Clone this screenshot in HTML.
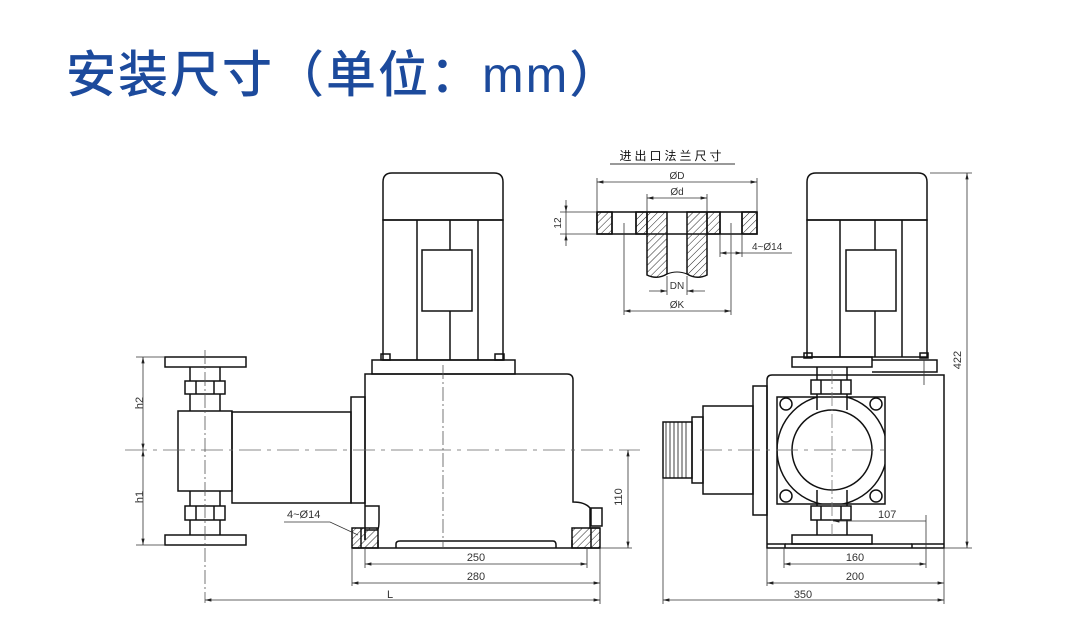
<!DOCTYPE html>
<html><head><meta charset="utf-8"><style>
html,body{margin:0;padding:0;background:#fff;}
body{width:1071px;height:644px;overflow:hidden;position:relative;}
.t{position:absolute;left:66px;top:50px;font-family:"Liberation Sans","Noto Sans CJK SC",sans-serif;font-size:50px;font-weight:500;color:#1c4a9c;letter-spacing:2px;white-space:nowrap;line-height:1;}
svg{position:absolute;left:0;top:0;}
</style></head><body>
<div class="t">安装尺寸（单位：mm）</div>
<svg width="1071" height="644" viewBox="0 0 1071 644" font-family="Liberation Sans, Noto Sans CJK SC, sans-serif">
<defs>
<pattern id="h" width="5" height="5" patternUnits="userSpaceOnUse" patternTransform="rotate(45)">
<line x1="0" y1="0" x2="0" y2="5" stroke="#222" stroke-width="1"/></pattern>
<marker id="a" markerWidth="8" markerHeight="6" refX="8" refY="3" orient="auto-start-reverse"><path d="M0,1 L8,3 L0,5z" fill="#222"/></marker>
<clipPath id="sq"><rect x="777" y="397" width="108" height="107"/></clipPath>
</defs>
<g stroke="#111" stroke-width="1.5" fill="none">
<path d="M383,220 V182 Q383,173 392,173 H494 Q503,173 503,182 V220 Z"/>
<rect x="383" y="220" width="120" height="140"/>
<line x1="417" y1="220" x2="417" y2="360"/><line x1="450" y1="220" x2="450" y2="360"/><line x1="478" y1="220" x2="478" y2="360"/>
<rect x="422" y="250" width="50" height="61" fill="#fff"/>
<rect x="381" y="354" width="9" height="6"/><rect x="495" y="354" width="9" height="6"/>
<rect x="372" y="360" width="143" height="14"/>
<path d="M365,540 V374 H567 Q573,374 573,380 V502 Q585,502 590,508 V528 H600"/>
<path d="M365,540 V530 H377 Q379,530 379,520 V506 H365"/>
<rect x="591" y="508" width="11" height="18"/>
<rect x="352" y="528" width="26" height="20" fill="url(#h)"/>
<rect x="572" y="528" width="28" height="20" fill="url(#h)"/>
<line x1="361" y1="528" x2="361" y2="548"/><line x1="591" y1="528" x2="591" y2="548"/>
<path d="M352,548 H600 M378,548 V540 M572,548 V540 M396,548 V544 Q396,541 400,541 H553 Q556,541 556,545 V548"/>
<rect x="351" y="397" width="14" height="106"/>
<rect x="232" y="412" width="119" height="91"/>
<rect x="178" y="411" width="54" height="80"/>
<rect x="165" y="357" width="81" height="10"/>
<rect x="165" y="535" width="81" height="10"/>
<line x1="190" y1="367" x2="190" y2="411"/><line x1="220" y1="367" x2="220" y2="411"/>
<line x1="190" y1="491" x2="190" y2="535"/><line x1="220" y1="491" x2="220" y2="535"/>
<rect x="185" y="381" width="40" height="13" fill="#fff"/><line x1="196" y1="381" x2="196" y2="394"/><line x1="214" y1="381" x2="214" y2="394"/>
<rect x="185" y="506" width="40" height="14" fill="#fff"/><line x1="196" y1="506" x2="196" y2="520"/><line x1="214" y1="506" x2="214" y2="520"/>

<path d="M807,220 V182 Q807,173 816,173 H918 Q927,173 927,182 V220 Z"/>
<rect x="807" y="220" width="120" height="137"/>
<line x1="840" y1="220" x2="840" y2="357"/><line x1="875" y1="220" x2="875" y2="357"/><line x1="902" y1="220" x2="902" y2="357"/>
<rect x="846" y="250" width="50" height="61" fill="#fff"/>
<rect x="804" y="353" width="8" height="5"/><rect x="920" y="353" width="8" height="5"/>
<rect x="792" y="357" width="80" height="10"/>
<path d="M872,360 H937 V372 H872"/>
<path d="M767,548 V380 Q767,375 772,375 H944 V548 Z"/>
<rect x="753" y="386" width="14" height="129"/>
<rect x="703" y="406" width="50" height="88"/>
<rect x="692" y="417" width="11" height="66"/>
<rect x="663" y="422" width="29" height="56"/>
<g stroke-width="0.8"><line x1="666" y1="422" x2="666" y2="478"/><line x1="670" y1="422" x2="670" y2="478"/><line x1="674" y1="422" x2="674" y2="478"/><line x1="678" y1="422" x2="678" y2="478"/><line x1="682" y1="422" x2="682" y2="478"/><line x1="686" y1="422" x2="686" y2="478"/></g>
<rect x="777" y="397" width="108" height="107"/>
<circle cx="832" cy="450" r="55" clip-path="url(#sq)"/>
<circle cx="832" cy="450" r="40" fill="#fff"/>
<g fill="#fff"><circle cx="786" cy="404" r="6"/><circle cx="876" cy="404" r="6"/><circle cx="786" cy="496" r="6"/><circle cx="876" cy="496" r="6"/></g>
<line x1="817" y1="367" x2="817" y2="410"/><line x1="847" y1="367" x2="847" y2="410"/>
<line x1="817" y1="490" x2="817" y2="535"/><line x1="847" y1="490" x2="847" y2="535"/>
<rect x="811" y="380" width="40" height="14" fill="#fff"/><line x1="821" y1="380" x2="821" y2="394"/><line x1="841" y1="380" x2="841" y2="394"/>
<rect x="811" y="506" width="40" height="14" fill="#fff"/><line x1="821" y1="506" x2="821" y2="520"/><line x1="841" y1="506" x2="841" y2="520"/>
<rect x="792" y="535" width="80" height="9"/>
<path d="M767,544 H785 V548 M912,548 V544 H944"/>
<line x1="785" y1="544" x2="912" y2="544"/>

<rect x="597" y="212" width="160" height="22" fill="#fff"/>
<rect x="597" y="212" width="15" height="22" fill="url(#h)"/>
<rect x="636" y="212" width="11" height="22" fill="url(#h)"/>
<rect x="707" y="212" width="13" height="22" fill="url(#h)"/>
<rect x="742" y="212" width="15" height="22" fill="url(#h)"/>
<line x1="612" y1="212" x2="612" y2="234"/><line x1="636" y1="212" x2="636" y2="234"/>
<line x1="720" y1="212" x2="720" y2="234"/><line x1="742" y1="212" x2="742" y2="234"/>
<path d="M647,212 V275 Q657,280 667,274 V212 Z" fill="url(#h)"/>
<path d="M687,212 V274 Q697,280 707,275 V212 Z" fill="url(#h)"/>
<path d="M667,274 Q677,270 687,274" stroke-width="1"/>
</g>
<g stroke="#333" stroke-width="0.8" fill="none">
<line x1="125" y1="450" x2="640" y2="450" stroke-dasharray="22,6,4,6" stroke="#666"/>
<line x1="700" y1="450" x2="890" y2="450" stroke-dasharray="22,6,4,6" stroke="#666"/>
<line x1="205" y1="350" x2="205" y2="603" stroke-dasharray="14,3,2,3" stroke="#555"/>
<line x1="443" y1="365" x2="443" y2="548" stroke-dasharray="14,3,2,3" stroke="#555"/>
<line x1="832" y1="370" x2="832" y2="535" stroke-dasharray="14,3,2,3" stroke="#777"/>
<line x1="136" y1="357" x2="165" y2="357"/><line x1="136" y1="545" x2="165" y2="545"/>
<line x1="143" y1="357" x2="143" y2="450" marker-start="url(#a)" marker-end="url(#a)"/>
<line x1="143" y1="450" x2="143" y2="545" marker-start="url(#a)" marker-end="url(#a)"/>
<line x1="600" y1="548" x2="632" y2="548"/>
<line x1="628" y1="450" x2="628" y2="548" marker-start="url(#a)" marker-end="url(#a)"/>
<line x1="365" y1="548" x2="365" y2="568"/><line x1="587" y1="548" x2="587" y2="568"/>
<line x1="365" y1="564" x2="587" y2="564" marker-start="url(#a)" marker-end="url(#a)"/>
<line x1="352" y1="548" x2="352" y2="586"/><line x1="600" y1="548" x2="600" y2="604"/>
<line x1="352" y1="583" x2="600" y2="583" marker-start="url(#a)" marker-end="url(#a)"/>
<line x1="205" y1="600" x2="600" y2="600" marker-start="url(#a)" marker-end="url(#a)"/>
<path d="M284,522 H330 L358,535"/>
<line x1="930" y1="173" x2="972" y2="173"/><line x1="944" y1="548" x2="972" y2="548"/>
<line x1="967" y1="173" x2="967" y2="548" marker-start="url(#a)" marker-end="url(#a)"/>
<line x1="924" y1="360" x2="924" y2="385"/>
<line x1="833" y1="521" x2="926" y2="521" marker-start="url(#a)"/>
<line x1="784" y1="548" x2="784" y2="568"/><line x1="926" y1="515" x2="926" y2="568"/>
<line x1="784" y1="564" x2="926" y2="564" marker-start="url(#a)" marker-end="url(#a)"/>
<line x1="767" y1="548" x2="767" y2="586"/><line x1="944" y1="548" x2="944" y2="604"/>
<line x1="767" y1="583" x2="944" y2="583" marker-start="url(#a)" marker-end="url(#a)"/>
<line x1="663" y1="478" x2="663" y2="604"/>
<line x1="663" y1="600" x2="944" y2="600" marker-start="url(#a)" marker-end="url(#a)"/>
<line x1="610" y1="164" x2="735" y2="164" stroke-width="1"/>
<line x1="597" y1="178" x2="597" y2="212"/><line x1="757" y1="178" x2="757" y2="212"/>
<line x1="597" y1="182" x2="757" y2="182" marker-start="url(#a)" marker-end="url(#a)"/>
<line x1="647" y1="194" x2="647" y2="212"/><line x1="707" y1="194" x2="707" y2="212"/>
<line x1="647" y1="198" x2="707" y2="198" marker-start="url(#a)" marker-end="url(#a)"/>
<line x1="560" y1="212" x2="597" y2="212"/><line x1="560" y1="234" x2="597" y2="234"/>
<line x1="566" y1="200" x2="566" y2="212" marker-end="url(#a)"/><line x1="566" y1="246" x2="566" y2="234" marker-end="url(#a)"/>
<line x1="566" y1="212" x2="566" y2="234"/>
<line x1="720" y1="234" x2="720" y2="257"/><line x1="742" y1="234" x2="742" y2="257"/>
<line x1="720" y1="253" x2="742" y2="253" marker-start="url(#a)" marker-end="url(#a)"/>
<line x1="742" y1="253" x2="792" y2="253"/>
<line x1="667" y1="276" x2="667" y2="295"/><line x1="687" y1="276" x2="687" y2="295"/>
<line x1="649" y1="291" x2="667" y2="291" marker-end="url(#a)"/><line x1="705" y1="291" x2="687" y2="291" marker-end="url(#a)"/>
<line x1="624" y1="223" x2="624" y2="315"/><line x1="731" y1="223" x2="731" y2="315"/>
<line x1="624" y1="311" x2="731" y2="311" marker-start="url(#a)" marker-end="url(#a)"/>
</g>
<g fill="#333" font-size="11">
<text x="146" y="403" transform="rotate(-90 146 403)" text-anchor="middle" dy="-3">h2</text>
<text x="146" y="497" transform="rotate(-90 146 497)" text-anchor="middle" dy="-3">h1</text>
<text x="625" y="497" transform="rotate(-90 625 497)" text-anchor="middle" dy="-3">110</text>
<text x="476" y="561" text-anchor="middle">250</text>
<text x="476" y="580" text-anchor="middle">280</text>
<text x="390" y="598" text-anchor="middle">L</text>
<text x="287" y="518">4~Ø14</text>
<text x="964" y="360" transform="rotate(-90 964 360)" text-anchor="middle" dy="-3">422</text>
<text x="878" y="518">107</text>
<text x="855" y="561" text-anchor="middle">160</text>
<text x="855" y="580" text-anchor="middle">200</text>
<text x="803" y="598" text-anchor="middle">350</text>
<text x="672" y="160" text-anchor="middle" font-size="12" letter-spacing="3" fill="#111">进出口法兰尺寸</text>
<text x="677" y="179" text-anchor="middle" font-size="10">ØD</text>
<text x="677" y="195" text-anchor="middle" font-size="10">Ød</text>
<text x="563" y="223" transform="rotate(-90 563 223)" text-anchor="middle" dy="-2" font-size="10">12</text>
<text x="752" y="250" font-size="10">4~Ø14</text>
<text x="677" y="289" text-anchor="middle" font-size="10">DN</text>
<text x="677" y="308" text-anchor="middle" font-size="10">ØK</text>
</g>
</svg>
</body></html>
